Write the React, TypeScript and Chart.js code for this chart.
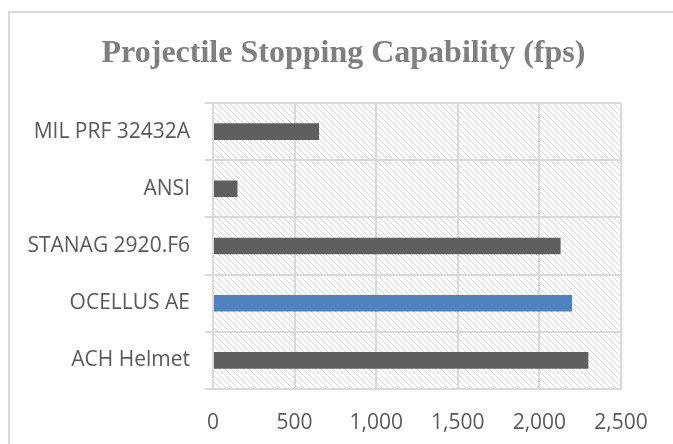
import React, { useEffect, useRef } from "react";
import { Chart, registerables } from "chart.js";

Chart.register(...registerables);

const TITLE = "Projectile Stopping Capability (fps)";
const categories = ["MIL PRF 32432A", "ANSI", "STANAG 2920.F6", "OCELLUS AE", "ACH Helmet"];
const values = [650, 150, 2130, 2200, 2300];
const highlighted = "OCELLUS AE";
const xMin = 0;
const xMax = 2500;
const xStep = 500;

const GRAY = "#5f5f5f";
const BLUE = "#4f81bd";
const GRID = "#d9d9d9";
const TEXT = "#595959";

function makePattern(ctx: CanvasRenderingContext2D): CanvasPattern | string {
  const size = 6;
  const c = document.createElement("canvas");
  c.width = size;
  c.height = size;
  const g = c.getContext("2d");
  if (!g) return "#ffffff";
  g.fillStyle = "#ffffff";
  g.fillRect(0, 0, size, size);
  g.fillStyle = "#d6d6d6";
  for (let i = 0; i < size; i++) g.fillRect(i, i, 1, 1);
  return ctx.createPattern(c, "repeat") || "#ffffff";
}

const decorPlugin = {
  id: "decor",
  beforeDraw(chart: any) {
    const { ctx, chartArea } = chart;
    ctx.save();
    ctx.fillStyle = "#ffffff";
    ctx.fillRect(0, 0, chart.width, chart.height);
    ctx.fillStyle = makePattern(ctx);
    ctx.fillRect(chartArea.left, chartArea.top, chartArea.right - chartArea.left, chartArea.bottom - chartArea.top);
    ctx.restore();
  },
  afterDraw(chart: any) {
    const { ctx } = chart;
    ctx.save();
    ctx.fillStyle = GRID;
    ctx.fillRect(8, 11, chart.width - 8, 2);
    ctx.fillRect(8, 11, 2, chart.height - 11);
    ctx.font = 'bold 32px "Liberation Serif"';
    ctx.fillStyle = "#7f7f7f";
    ctx.textAlign = "center";
    ctx.textBaseline = "alphabetic";
    ctx.fillText(TITLE, 343.5, 62);
    ctx.restore();
  },
};

export default function App() {
  const ref = useRef<HTMLCanvasElement | null>(null);
  useEffect(() => {
    document.documentElement.style.overflow = "hidden";
    document.body.style.overflow = "hidden";
    if (!ref.current) return;
    const chart = new Chart(ref.current, {
      type: "bar",
      data: {
        labels: categories,
        datasets: [
          {
            data: values,
            backgroundColor: categories.map((c) => (c === highlighted ? BLUE : GRAY)),
            barPercentage: 0.29,
            categoryPercentage: 1,
          },
        ],
      },
      options: {
        indexAxis: "y",
        animation: false,
        responsive: false,
        devicePixelRatio: 1,
        layout: { padding: { left: 0, right: 52, top: 103, bottom: 0 } },
        plugins: { legend: { display: false }, title: { display: false }, tooltip: { enabled: false } },
        scales: {
          x: {
            min: xMin,
            max: xMax,
            ticks: {
              stepSize: xStep,
              padding: 21,
              color: TEXT,
              font: { family: '"Open Sans"', size: 21 },
              callback: (v: any) => Number(v).toLocaleString("en-US"),
            },
            grid: { color: GRID, lineWidth: 2, drawTicks: false },
            border: { color: GRID, width: 2 },
            afterFit: (s: any) => {
              s.height = 55;
            },
          },
          y: {
            ticks: {
              padding: 15,
              color: TEXT,
              font: { family: '"Open Sans"', size: 21 },
            },
            grid: { color: GRID, lineWidth: 2, drawTicks: true, tickLength: 8, offset: true },
            border: { color: GRID, width: 2 },
            afterFit: (s: any) => {
              s.width = 213;
            },
          },
        },
      },
      plugins: [decorPlugin],
    });
    return () => chart.destroy();
  }, []);
  return (
    <div style={{ position: "absolute", left: 0, top: 0 }}>
      <canvas ref={ref} width={673} height={444} style={{ display: "block", width: 673, height: 444 }} />
    </div>
  );
}
